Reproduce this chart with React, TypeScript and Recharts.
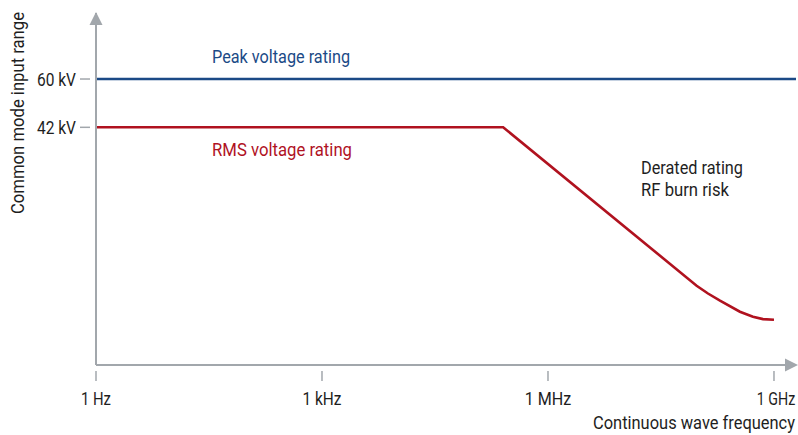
import React from 'react';
import { LineChart, Line, XAxis, YAxis, ReferenceLine } from 'recharts';

// ---- data ----
const FREQ_TICKS = [1, 1e3, 1e6, 1e9];
const FREQ_TICK_LABELS = ['1 Hz', '1 kHz', '1 MHz', '1 GHz'];
const VOLT_TICKS = [42, 60];
const VOLT_TICK_LABELS = ['42 kV', '60 kV'];
const FREQ_DOMAIN = [1, 1.96e9];
const KV_DOMAIN = [7.26, 97.7];
const PEAK_KV = 60;
const RMS_FREQ = [1, 2.54e5, 9.4e7, 1.33e8, 1.92e8, 3.53e8, 5.26e8, 7.14e8, 1e9];
const RMS_KV = [42, 42, 13.04, 12.31, 11.67, 10.76, 10.37, 10.19, 10.14];

const rmsData = RMS_FREQ.map((hz, i) => ({ hz, kv: RMS_KV[i] }));

// ---- styles ----
const FONT = 'Roboto, "Noto Sans", sans-serif';
const AXIS = '#a2a7ac';
const BLUE = '#1b4a86';
const RED = '#b0121f';
const TEXT = '#1e1e1e';
const FS = 18.5;
// rendered widths of the condensed type in the reference (style only)
const LABEL_WIDTH: Record<string, number> = {
  '1 Hz': 30,
  '1 kHz': 39,
  '1 MHz': 46.5,
  '1 GHz': 38.5,
  '42 kV': 39,
  '60 kV': 39,
};

const SText = (p: any) => {
  const { x, y, w, anchor = 'start', fill = TEXT, transform, children } = p;
  return (
    <text
      x={x}
      y={y}
      textAnchor={anchor}
      fill={fill}
      fontSize={FS}
      fontFamily={FONT}
      textLength={w}
      lengthAdjust="spacingAndGlyphs"
      transform={transform}
    >
      {children}
    </text>
  );
};

const XTick = (props: any) => {
  const { x, y, payload } = props;
  const i = FREQ_TICKS.indexOf(payload.value);
  const label = FREQ_TICK_LABELS[i];
  const last = i === FREQ_TICKS.length - 1;
  const w = LABEL_WIDTH[label];
  return (
    <g>
      <line x1={x} x2={x} y1={y + 6} y2={y + 16} stroke={AXIS} strokeWidth={1.5} />
      <SText x={last ? x + 2 + w / 2 : x} y={y + 40} w={w} anchor={last ? 'end' : 'middle'}>
        {label}
      </SText>
    </g>
  );
};

const YTick = (props: any) => {
  const { x, y, payload } = props;
  const i = VOLT_TICKS.indexOf(payload.value);
  const label = VOLT_TICK_LABELS[i];
  return (
    <g>
      <line x1={x - 16} x2={x - 6} y1={y} y2={y} stroke={AXIS} strokeWidth={1.5} />
      <SText x={x - 20} y={y + 6.5} w={LABEL_WIDTH[label]} anchor="end">
        {label}
      </SText>
    </g>
  );
};

export default function App() {
  return (
    <div style={{ position: 'absolute', left: 0, top: 0, width: 798, height: 435, background: '#fff' }}>
      <LineChart
        width={798}
        height={435}
        data={rmsData}
        margin={{ top: 13, right: 2, bottom: 0, left: 0 }}
      >
        <XAxis
          dataKey="hz"
          type="number"
          scale="log"
          domain={FREQ_DOMAIN}
          allowDataOverflow
          ticks={FREQ_TICKS}
          interval={0}
          height={70}
          tickSize={0}
          tickMargin={0}
          tickLine={false}
          tick={<XTick />}
          axisLine={{ stroke: AXIS, strokeWidth: 2 }}
        />
        <YAxis
          dataKey="kv"
          type="number"
          scale="log"
          domain={KV_DOMAIN}
          allowDataOverflow
          ticks={VOLT_TICKS}
          interval={0}
          width={96}
          tickSize={0}
          tickMargin={0}
          tickLine={false}
          tick={<YTick />}
          axisLine={{ stroke: AXIS, strokeWidth: 2 }}
        />
        <ReferenceLine y={PEAK_KV} stroke={BLUE} strokeWidth={2.6} ifOverflow="visible" />
        <Line
          data={rmsData}
          dataKey="kv"
          type="linear"
          stroke={RED}
          strokeWidth={2.6}
          dot={false}
          activeDot={false}
          isAnimationActive={false}
        />
        {/* axis arrows */}
        <polygon points="96,12 89.5,25 102.5,25" fill={AXIS} />
        <polygon points="798,365 785,358.5 785,371.5" fill={AXIS} />
        {/* annotations */}
        <SText x={212} y={63} w={138} fill={BLUE}>
          Peak voltage rating
        </SText>
        <SText x={212} y={156} w={140} fill={RED}>
          RMS voltage rating
        </SText>
        <SText x={641} y={174} w={102}>
          Derated rating
        </SText>
        <SText x={641} y={196} w={88}>
          RF burn risk
        </SText>
        <SText x={24} y={113} w={202} anchor="middle" transform="rotate(-90, 24, 113)">
          Common mode input range
        </SText>
        <SText x={795} y={429} w={202} anchor="end">
          Continuous wave frequency
        </SText>
      </LineChart>
    </div>
  );
}
